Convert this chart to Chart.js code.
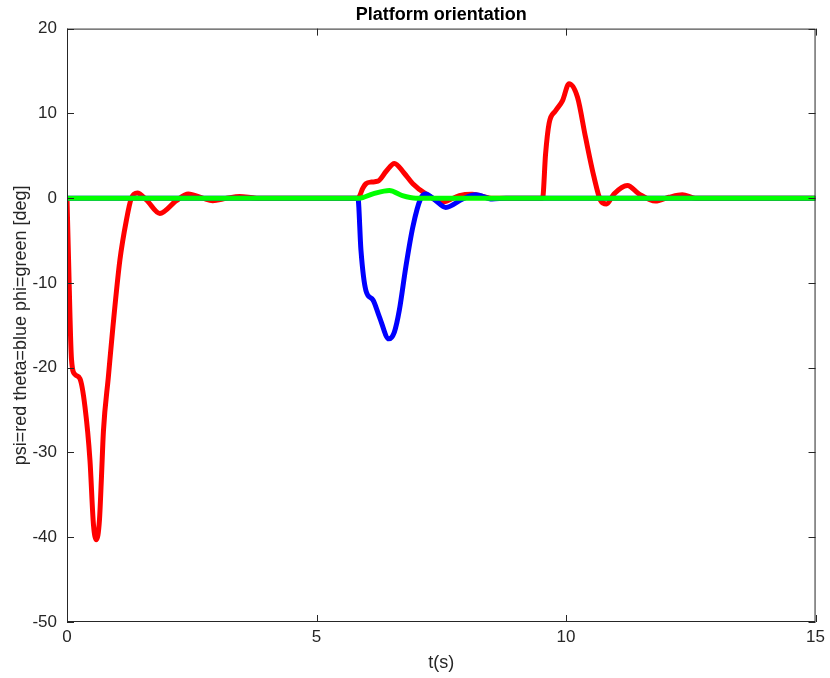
<!DOCTYPE html>
<html>
<head>
<meta charset="utf-8">
<script src="https://cdn.jsdelivr.net/npm/chart.js@4"></script>
<style>
  html, body { margin: 0; padding: 0; background: #fff; }
  #wrap { width: 830px; height: 678px; }
</style>
</head>
<body>
<div id="wrap"><canvas id="chart" width="830" height="678"></canvas></div>
<script>
// time (s) and angle (deg)
const tPsi = [0, 0.03, 0.09, 0.16, 0.26, 0.36, 0.46, 0.53, 0.59, 0.65, 0.69, 0.73, 0.83, 0.92, 1.06, 1.19, 1.29, 1.41, 1.59, 1.86, 2.19, 2.43, 2.72, 2.92, 3.2, 3.46, 3.8,
  5.83, 5.93, 5.99, 6.1, 6.23, 6.4, 6.56, 6.75, 6.93, 7.19, 7.53, 7.86, 8.12, 8.5,
  9.53, 9.59, 9.66, 9.79, 9.93, 10.06, 10.23, 10.39, 10.56, 10.69, 10.81, 10.96, 11.23, 11.46, 11.79, 12.06, 12.33, 12.59, 15];
const psi = [0, -7, -19, -20.8, -21.3, -24.6, -30.9, -38.5, -40.3, -38, -33, -27.5, -21, -15.2, -7.3, -2.6, 0, 0.6, -0.2, -1.8, -0.3, 0.5, 0, -0.3, 0, 0.2, 0,
  0, 1.2, 1.7, 1.9, 2.0, 3.2, 4.1, 3, 1.7, 0.5, -0.45, 0.3, 0.45, 0,
  0, 5.2, 8.8, 10.3, 11.5, 13.5, 11.9, 7.2, 2.5, -0.25, -0.7, 0.5, 1.5, 0.5, -0.35, 0.1, 0.4, 0, 0];

const tTheta = [0, 5.83, 5.89, 5.99, 6.13, 6.26, 6.45, 6.56, 6.66, 6.79, 6.93, 7.09, 7.19, 7.39, 7.59, 7.93, 8.19, 8.52, 8.8, 15];
const theta = [0, 0, -6.1, -10.9, -12, -14, -16.6, -15.8, -13.2, -8.1, -3.4, 0, 0.5, -0.3, -1.1, -0.1, 0.4, -0.1, 0, 0];

const tPhi = [0, 5.86, 6.13, 6.46, 6.72, 6.99, 15];
const phi = [0, 0, 0.5, 0.9, 0.3, 0, 0];

const xTicks = [0, 5, 10, 15];
const yTicks = [-50, -40, -30, -20, -10, 0, 10, 20];

const toPoints = (ts, vs) => ts.map((t, i) => ({ x: t, y: vs[i] }));

const axisColor = '#262626';
const font = "'Liberation Sans', Arial, sans-serif";

// MATLAB style box with inward ticks on all four sides
const boxPlugin = {
  id: 'box',
  afterDraw(chart) {
    const { ctx, chartArea: a, scales } = chart;
    ctx.save();
    ctx.strokeStyle = axisColor;
    ctx.lineWidth = 1;
    ctx.strokeRect(a.left + 0.5, a.top + 0.5, a.right - a.left - 1, a.bottom - a.top - 1);
    ctx.beginPath();
    const len = 7;
    xTicks.forEach((v) => {
      const px = Math.round(scales.x.getPixelForValue(v)) + 0.5;
      ctx.moveTo(px, a.bottom); ctx.lineTo(px, a.bottom - len);
      ctx.moveTo(px, a.top); ctx.lineTo(px, a.top + len);
    });
    yTicks.forEach((v) => {
      const py = Math.round(scales.y.getPixelForValue(v)) + 0.5;
      ctx.moveTo(a.left, py); ctx.lineTo(a.left + len, py);
      ctx.moveTo(a.right, py); ctx.lineTo(a.right - len, py);
    });
    ctx.stroke();
    ctx.restore();
  }
};

const lineStyle = {
  borderWidth: 5,
  pointRadius: 0,
  fill: false,
  cubicInterpolationMode: 'monotone',
};

new Chart(document.getElementById('chart').getContext('2d'), {
  type: 'line',
  data: {
    datasets: [
      { label: 'psi', data: toPoints(tPsi, psi), borderColor: 'rgb(255,0,0)', order: 3, ...lineStyle },
      { label: 'theta', data: toPoints(tTheta, theta), borderColor: 'rgb(0,0,255)', order: 2, ...lineStyle },
      { label: 'phi', data: toPoints(tPhi, phi), borderColor: 'rgb(0,255,0)', order: 1, ...lineStyle },
    ],
  },
  options: {
    responsive: false,
    animation: false,
    layout: { padding: { top: 0, right: 13, left: 0, bottom: 0 } },
    plugins: {
      legend: { display: false },
      tooltip: { enabled: false },
      title: {
        display: true,
        fullSize: false, // centre over the plot box, like MATLAB
        text: 'Platform orientation',
        color: '#000',
        font: { family: font, size: 18, weight: 'bold' },
        padding: { top: 4, bottom: 3 },
      },
    },
    scales: {
      x: {
        type: 'linear',
        min: 0,
        max: 15,
        afterBuildTicks: (s) => { s.ticks = xTicks.map((v) => ({ value: v })); },
        afterFit: (s) => { s.height = 56; },
        grid: { display: false, drawTicks: false },
        border: { display: false },
        ticks: { color: axisColor, padding: 5, font: { family: font, size: 17 } },
        title: { display: true, text: 't(s)', color: axisColor, padding: { top: 4 }, font: { family: font, size: 18 } },
      },
      y: {
        min: -50,
        max: 20,
        afterBuildTicks: (s) => { s.ticks = yTicks.map((v) => ({ value: v })); },
        afterFit: (s) => { s.width = 67; },
        grid: { display: false, drawTicks: false },
        border: { display: false },
        ticks: { color: axisColor, padding: 10, font: { family: font, size: 17 } },
        title: { display: true, text: 'psi=red theta=blue phi=green [deg]', color: axisColor, padding: { top: 10, bottom: 2 }, font: { family: font, size: 18 } },
      },
    },
  },
  plugins: [boxPlugin],
});
</script>
</body>
</html>
